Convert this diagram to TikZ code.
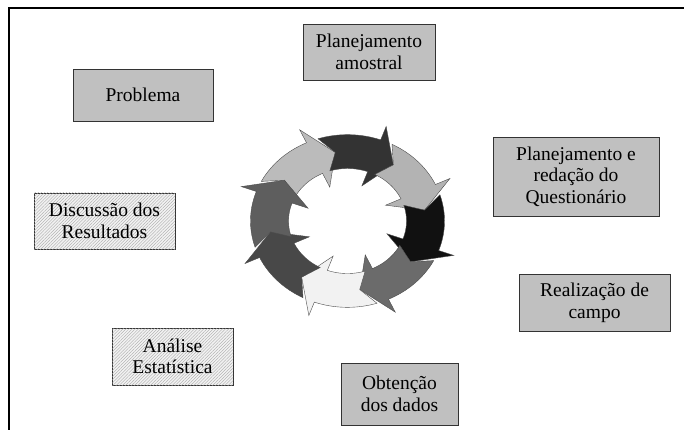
\documentclass[tikz,border=0pt]{standalone}
\usepackage{fontspec}
\setmainfont{Liberation Serif}
\usetikzlibrary{patterns.meta}
\definecolor{cA}{HTML}{BBBBBB}
\definecolor{cB}{HTML}{333333}
\definecolor{cC}{HTML}{B3B3B3}
\definecolor{cD}{HTML}{111111}
\definecolor{cE}{HTML}{6B6B6B}
\definecolor{cF}{HTML}{F2F2F2}
\definecolor{cG}{HTML}{484848}
\definecolor{cH}{HTML}{5E5E5E}
\definecolor{boxgray}{HTML}{C0C0C0}
\begin{document}
\begin{tikzpicture}[x=1pt,y=-1pt,
  lbl/.style={font=\fontsize{19.5}{21.5}\selectfont, align=center, inner sep=0pt},
  graybox/.style={lbl, draw=black!80, line width=0.8pt, fill=boxgray},
  hatchbox/.style={lbl, draw=black!80, line width=0.8pt, fill=black!5,
    postaction={pattern={Lines[angle=45,distance=2.2pt,line width=0.35pt]}, pattern color=black!35}},
  ringarrow/.style={draw=black!70, line width=0.4pt}]
\useasboundingbox (0,0) rectangle (684,430);
\draw[line width=2pt] (9,431) -- (9,8) -- (685,8);
% boxes
\node[graybox, minimum width=132pt, minimum height=56pt] (pa) at (369,52) {Planejamento\\amostral};
\node[graybox, minimum width=140pt, minimum height=52pt] (prob) at (143,95) {Problema};
\node[graybox, minimum width=166pt, minimum height=79pt] (pq) at (576,176.5) {Planejamento e\\redação do\\Questionário};
\node[hatchbox, minimum width=141pt, minimum height=56pt] (disc) at (104.5,221) {Discussão dos\\Resultados};
\node[graybox, minimum width=151pt, minimum height=57pt] (real) at (594.5,303) {Realização de\\campo};
\node[hatchbox, minimum width=121pt, minimum height=57pt] (anal) at (172.5,356.5) {Análise\\Estatística};
\node[graybox, minimum width=117pt, minimum height=62pt] (obt) at (399.5,394) {Obtenção\\dos dados};
% cycle of arrows
\foreach \ba/\col in {115/cA,70/cB,25/cC,-20/cD,-65/cE,-110/cF,-155/cG,-200/cH}{
  \pgfmathsetmacro\sa{\ba+45-7.3}
  \pgfmathsetmacro\sb{\ba+45-7.6}
  \pgfmathsetmacro\st{\ba+45-16}
  \pgfmathsetmacro\tp{\ba-16}
  \filldraw[ringarrow, fill=\col]
    plot[domain=\sa:\ba, samples=25] ({347.5+97*cos(\x)},{221-0.89*97*sin(\x)})
    -- ({347.5+113*cos(\ba)},{221-0.89*113*sin(\ba)})
    -- ({347.5+78*cos(\tp)},{221-0.89*78*sin(\tp)})
    -- ({347.5+42*cos(\ba)},{221-0.89*42*sin(\ba)})
    -- plot[domain=\ba:\sb, samples=25] ({347.5+59*cos(\x)},{221-0.89*59*sin(\x)})
    -- ({347.5+78*cos(\st)},{221-0.89*78*sin(\st)})
    -- cycle;
}
\end{tikzpicture}
\end{document}
